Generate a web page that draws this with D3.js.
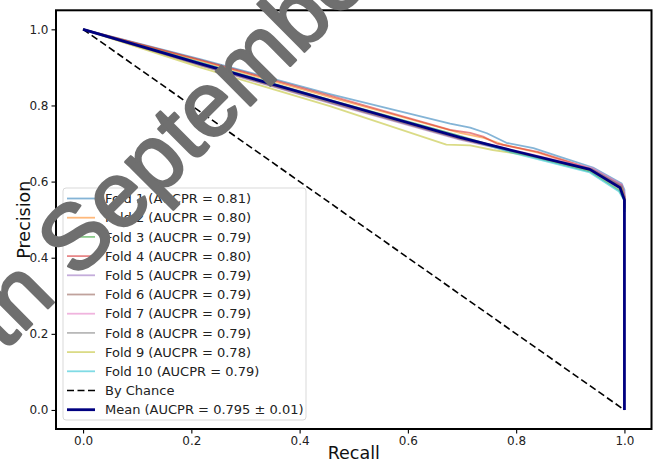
<!DOCTYPE html>
<html>
<head>
<meta charset="utf-8">
<script src="https://cdn.jsdelivr.net/npm/d3@7"></script>
<style>
  html, body { margin: 0; padding: 0; background: #fff; }
  svg { display: block; }
</style>
</head>
<body>
<svg id="chart" width="656" height="462"></svg>
<script>
// Precision–recall curves for 10 cross-validation folds plus their mean.
const foldLabels = [
  "Fold 1 (AUCPR = 0.81)", "Fold 2 (AUCPR = 0.80)", "Fold 3 (AUCPR = 0.79)",
  "Fold 4 (AUCPR = 0.80)", "Fold 5 (AUCPR = 0.79)", "Fold 6 (AUCPR = 0.79)",
  "Fold 7 (AUCPR = 0.79)", "Fold 8 (AUCPR = 0.79)", "Fold 9 (AUCPR = 0.78)",
  "Fold 10 (AUCPR = 0.79)"
];
const foldColors = ["#1f77b4", "#ff7f0e", "#2ca02c", "#d62728", "#9467bd",
                    "#8c564b", "#e377c2", "#7f7f7f", "#bcbd22", "#17becf"];

// [recall, precision] points of each fold
const fold1  = [[0,1],[0.216,0.922],[0.456,0.830],[0.678,0.752],[0.715,0.742],[0.746,0.727],[0.782,0.702],[0.832,0.688],[0.881,0.665],[0.942,0.637],[0.995,0.595],[1,0.578],[1,0.54]];
const fold2  = [[0,1],[0.216,0.918],[0.456,0.822],[0.696,0.728],[0.740,0.715],[0.776,0.697],[0.840,0.676],[0.940,0.632],[0.995,0.585],[1,0.560],[1,0.53]];
const fold3  = [[0,1],[0.216,0.913],[0.456,0.815],[0.696,0.720],[0.790,0.680],[0.936,0.627],[0.990,0.578],[1,0.550],[1,0.52]];
const fold4  = [[0,1],[0.216,0.920],[0.456,0.826],[0.678,0.736],[0.715,0.728],[0.739,0.718],[0.764,0.700],[0.840,0.678],[0.940,0.633],[0.995,0.590],[1,0.565],[1,0.535]];
const fold5  = [[0,1],[0.216,0.905],[0.456,0.806],[0.696,0.710],[0.790,0.680],[0.940,0.632],[0.995,0.588],[1,0.560],[1,0.53]];
const fold6  = [[0,1],[0.216,0.906],[0.456,0.808],[0.696,0.712],[0.790,0.681],[0.940,0.630],[0.995,0.585],[1,0.560],[1,0.53]];
const fold7  = [[0,1],[0.216,0.910],[0.456,0.812],[0.696,0.716],[0.790,0.684],[0.940,0.636],[0.995,0.592],[1,0.570],[1,0.53]];
const fold8  = [[0,1],[0.216,0.908],[0.456,0.810],[0.696,0.714],[0.790,0.682],[0.940,0.633],[0.995,0.588],[1,0.560],[1,0.53]];
const fold9  = [[0,1],[0.216,0.900],[0.456,0.798],[0.671,0.697],[0.715,0.695],[0.757,0.683],[0.840,0.665],[0.940,0.628],[0.995,0.583],[1,0.555],[1,0.52]];
const fold10 = [[0,1],[0.216,0.912],[0.456,0.813],[0.696,0.718],[0.790,0.677],[0.936,0.624],[0.990,0.574],[1,0.550],[1,0.52]];
const folds = [fold1, fold2, fold3, fold4, fold5, fold6, fold7, fold8, fold9, fold10];

const meanCurve = [[0,1],[0.216,0.910],[0.456,0.813],[0.696,0.716],[0.789,0.683],[0.936,0.632],[0.992,0.584],[1,0.552],[1,0]];
const meanLabel = "Mean (AUCPR = 0.795 \u00b1 0.01)";
const chanceLine = [[0,1],[1,0]];
const chanceLabel = "By Chance";

const xTicks = [0, 0.2, 0.4, 0.6, 0.8, 1.0];
const yTicks = [0, 0.2, 0.4, 0.6, 0.8, 1.0];

const svg = d3.select("#chart");
const font = "'DejaVu Sans', sans-serif";

const plotLeft = 56, plotRight = 651.5, plotTop = 10.3, plotBottom = 429;
const x = d3.scaleLinear().domain([-0.05, 1.05]).range([plotLeft, plotRight]);
const y = d3.scaleLinear().domain([-0.05, 1.05]).range([plotBottom, plotTop]);

const line = d3.line().x(d => x(d[0])).y(d => y(d[1]));

const plot = svg.append("g");

// fold curves
folds.forEach((f, i) => {
  plot.append("path")
    .attr("d", line(f))
    .attr("fill", "none")
    .attr("stroke", foldColors[i])
    .attr("stroke-opacity", 0.55)
    .attr("stroke-width", 1.8)
    .attr("stroke-linejoin", "round");
});

// chance diagonal
plot.append("path")
  .attr("d", line(chanceLine))
  .attr("fill", "none")
  .attr("stroke", "#000")
  .attr("stroke-width", 1.6)
  .attr("stroke-dasharray", "7,3.5");

// mean curve
plot.append("path")
  .attr("d", line(meanCurve))
  .attr("fill", "none")
  .attr("stroke", "#000080")
  .attr("stroke-width", 2.8)
  .attr("stroke-linejoin", "round");

// axes
const xAxis = svg.append("g")
  .attr("transform", `translate(0,${plotBottom})`)
  .call(d3.axisBottom(x).tickValues(xTicks).tickFormat(d3.format(".1f")).tickSize(4.5).tickPadding(3));
const yAxis = svg.append("g")
  .attr("transform", `translate(${plotLeft},0)`)
  .call(d3.axisLeft(y).tickValues(yTicks).tickFormat(d3.format(".1f")).tickSize(4.5).tickPadding(3));
[xAxis, yAxis].forEach(a => {
  a.select(".domain").remove();
  a.selectAll(".tick line").attr("stroke", "#000").attr("stroke-width", 1.1);
  a.selectAll(".tick text").attr("font-family", font).attr("font-size", 12).attr("fill", "#222");
});

// frame
svg.append("rect")
  .attr("x", plotLeft).attr("y", plotTop)
  .attr("width", plotRight - plotLeft).attr("height", plotBottom - plotTop)
  .attr("fill", "none").attr("stroke", "#000").attr("stroke-width", 2);

// axis titles
svg.append("text")
  .attr("x", (plotLeft + plotRight) / 2).attr("y", 459)
  .attr("text-anchor", "middle")
  .attr("font-family", font).attr("font-size", 17.5).attr("fill", "#111")
  .text("Recall");
svg.append("text")
  .attr("transform", `translate(30,${(plotTop + plotBottom) / 2}) rotate(-90)`)
  .attr("text-anchor", "middle")
  .attr("font-family", font).attr("font-size", 17.5).attr("fill", "#111")
  .text("Precision");

// legend
const legend = svg.append("g");
legend.append("rect")
  .attr("x", 63).attr("y", 188).attr("width", 243).attr("height", 232)
  .attr("rx", 3)
  .attr("fill", "#fff").attr("fill-opacity", 0.8)
  .attr("stroke", "#d9d9d9").attr("stroke-width", 1);

const entries = foldLabels.map((t, i) => ({ text: t, color: foldColors[i], opacity: 0.55, width: 1.8, dash: null }));
entries.push({ text: chanceLabel, color: "#000", opacity: 1, width: 1.6, dash: "7,3.5" });
entries.push({ text: meanLabel, color: "#000080", opacity: 1, width: 2.8, dash: null });

entries.forEach((e, i) => {
  const cy = 198.5 + i * 19.2;
  legend.append("line")
    .attr("x1", 67).attr("x2", 95).attr("y1", cy).attr("y2", cy)
    .attr("stroke", e.color).attr("stroke-opacity", e.opacity)
    .attr("stroke-width", e.width)
    .attr("stroke-dasharray", e.dash);
  legend.append("text")
    .attr("x", 105).attr("y", cy).attr("dy", "0.36em")
    .attr("font-family", font).attr("font-size", 13).attr("fill", "#222")
    .text(e.text);
});

// diagonal date stamp across the plot
const stampSize = 92;
const stamp = svg.append("g")
  .attr("transform", "translate(76,280) rotate(-45)")
  .attr("font-family", "'Liberation Sans', Arial, sans-serif")
  .attr("font-size", stampSize)
  .attr("fill", "#6f6f6f")
  .attr("stroke", "#6f6f6f")
  .attr("stroke-width", 2.5)
  .attr("stroke-linejoin", "round");
stamp.append("text").attr("x", 0).attr("y", 0).text("September");
stamp.append("text").attr("x", -0.278 * stampSize).attr("y", 0).attr("text-anchor", "end").text("5th");
</script>
</body>
</html>
